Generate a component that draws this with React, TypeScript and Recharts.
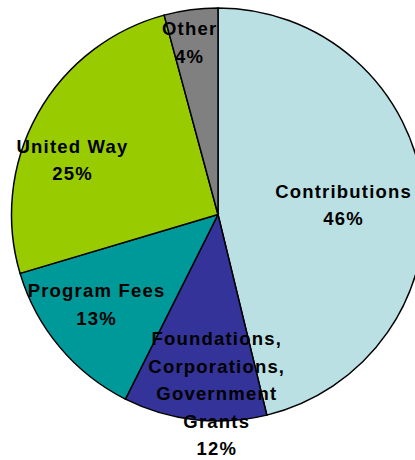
import React from "react";
import { PieChart, Pie, Cell } from "recharts";

const categories = [
  "Contributions",
  "Foundations,\nCorporations,\nGovernment\nGrants",
  "Program Fees",
  "United Way",
  "Other",
];
// slice sizes as drawn
const shares = [46.2, 11.2, 13.0, 25.4, 4.2];
// percentages as printed on the chart
const pctLabels = ["46%", "12%", "13%", "25%", "4%"];
const colors = ["#BAE0E4", "#333399", "#009999", "#99CC00", "#808080"];

const data = categories.map((name, i) => ({ name, value: shares[i], pct: pctLabels[i] }));

// label placement: fraction of radius and angular nudge (degrees)
const labelPlace = [
  { f: 0.607, d: -2.5 },
  { f: 0.869, d: 5.9 },
  { f: 0.734, d: -3.6 },
  { f: 0.755, d: 8.7 },
  { f: 0.845, d: 2.0 },
];

const RAD = Math.PI / 180;
const LINE = 27.5;

const renderLabel = (props: any) => {
  const { cx, cy, midAngle, outerRadius, index } = props;
  const d = data[index];
  const p = labelPlace[index];
  const a = (midAngle + p.d) * RAD;
  const r = outerRadius * p.f;
  const x = cx + r * Math.cos(a);
  const y = cy - r * Math.sin(a);
  const lines = [...d.name.split("\n"), d.pct];
  const y0 = y - ((lines.length - 1) * LINE) / 2 + 6.5;
  return (
    <text
      x={x}
      y={y0}
      textAnchor="middle"
      fill="#000"
      fontFamily="'Liberation Sans', Arial, sans-serif"
      fontWeight="bold"
      fontSize={18.5}
      letterSpacing={1.2}
    >
      {lines.map((l, i) => (
        <tspan key={i} x={x + 0.6} y={y0 + i * LINE}>
          {l}
        </tspan>
      ))}
    </text>
  );
};

export default function App() {
  return (
    <div style={{ position: "absolute", left: 0, top: 0, width: 415, height: 460, background: "#fff" }}>
      <PieChart width={415} height={460} margin={{ top: 0, right: 0, bottom: 0, left: 0 }}>
        <Pie
          data={data}
          dataKey="value"
          nameKey="name"
          cx={218}
          cy={214.5}
          outerRadius={206.5}
          startAngle={90}
          endAngle={-270}
          stroke="#000"
          strokeWidth={1.5}
          label={renderLabel}
          labelLine={false}
          isAnimationActive={false}
        >
          {data.map((d, i) => (
            <Cell key={d.name} fill={colors[i]} />
          ))}
        </Pie>
      </PieChart>
    </div>
  );
}
